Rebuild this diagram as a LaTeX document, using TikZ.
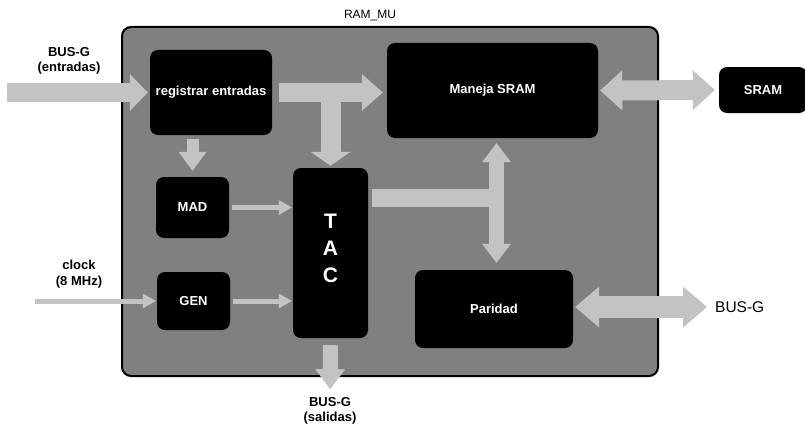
\documentclass[tikz,border=0pt]{standalone}
\usepackage{fontspec}
\setmainfont{Liberation Sans}
\usetikzlibrary{arrows.meta}
\definecolor{modgray}{RGB}{128,128,128}
\definecolor{busgray}{RGB}{195,195,195}

\tikzset{
  block/.style={fill=black, rounded corners=8pt, text=white, font=\bfseries\fontsize{13}{15.5}\selectfont},
  modulebox/.style={draw=black, line width=2pt, fill=modgray, rounded corners=9pt},
  buslabel/.style={inner sep=0pt, align=center, font=\bfseries\fontsize{13}{15.5}\selectfont},
  busarrow/.style n args={3}{draw=busgray, line width=#1, -{Triangle[length=#2,width=#3,line width=0pt]}},
  busdouble/.style n args={3}{draw=busgray, line width=#1, {Triangle[length=#2,width=#3,line width=0pt]}-{Triangle[length=#2,width=#3,line width=0pt]}},
  wire/.style={draw=busgray, line width=5pt, -{Triangle[length=13pt,width=15pt,line width=0pt]}}
}

\begin{document}
\begin{tikzpicture}[x=1pt, y=-1pt]
    \useasboundingbox (0,0) rectangle (805,428);

    % Outer module
    \node[modulebox, minimum width=536pt, minimum height=349pt] (rammu) at (390,201.5) {};
    \node[inner sep=0pt, font=\fontsize{12}{14}\selectfont] (rammulbl) at (370,16) {RAM\_MU};

    % Blocks
    \node[block, minimum width=122pt, minimum height=85pt] (regin) at (211,92.5) {registrar entradas};
    \node[block, minimum width=211pt, minimum height=95pt] (maneja) at (492.5,90.5) {Maneja SRAM};
    \node[block, minimum width=88pt, minimum height=46pt] (sram) at (763,90) {SRAM};
    \node[block, minimum width=73pt, minimum height=61pt] (mad) at (192.5,207.5) {MAD};
    \node[block, minimum width=73pt, minimum height=58pt] (gen) at (193.5,301) {GEN};
    \node[block, minimum width=75pt, minimum height=170pt, align=center, text depth=10pt,
          font=\bfseries\fontsize{21}{27}\selectfont] (tac) at (330.5,253) {T\\A\\C};
    \node[block, minimum width=158pt, minimum height=78pt] (paridad) at (494,309) {Paridad};

    % Outside labels
    \node[buslabel] (inlbl) at (69,61) {BUS-G\\(entradas)};
    \node[buslabel] (clklbl) at (79,274) {clock\\(8 MHz)};
    \node[buslabel] (outlbl) at (330,411) {BUS-G\\(salidas)};
    \node[inner sep=0pt, anchor=west, font=\fontsize{15.5}{18}\selectfont] (buslbl) at (715,307) {BUS-G};

    \coordinate (busin) at (7,92.5);
    \coordinate (clkin) at (35,301);
    \coordinate (junc) at (496.5,198);

    % Buses
    \draw[busarrow={19pt}{18pt}{37pt}, shorten >=2pt] (busin) -- (regin.west);
    \draw[busarrow={19pt}{21pt}{37pt}, shorten <=7pt, shorten >=4pt] (regin.east) -- (regin.east -| maneja.west);
    \draw[busarrow={20pt}{14pt}{40pt}, shorten >=2pt] (tac.north |- regin.east) -- (tac.north);
    \draw[busarrow={12pt}{19pt}{28pt}, shorten <=4pt, shorten >=6pt] (mad.north |- regin.south) -- (mad.north);
    \draw[busdouble={20pt}{22pt}{40pt}, shorten <=2pt, shorten >=4pt] (maneja.east) -- (sram.west);
    \draw[draw=busgray, line width=18pt, shorten <=4pt] (tac.east |- junc) -- (junc);
    \draw[busdouble={15pt}{19pt}{29pt}, shorten <=5pt, shorten >=7pt] (junc |- maneja.south) -- (junc |- paridad.north);
    \draw[busdouble={22pt}{24pt}{41pt}, shorten <=2pt, shorten >=8pt] (paridad.east |- buslbl.west) -- (buslbl.west);
    \draw[busarrow={15pt}{20pt}{30pt}, shorten <=7pt, shorten >=8pt] (tac.south) -- (outlbl.north);

    % Thin signals
    \draw[wire, shorten <=3pt, shorten >=1pt] (mad.east) -- (mad.east -| tac.west);
    \draw[wire, shorten <=3pt, shorten >=1pt] (gen.east) -- (gen.east -| tac.west);
    \draw[wire, shorten >=1pt] (clkin) -- (gen.west);
\end{tikzpicture}
\end{document}
